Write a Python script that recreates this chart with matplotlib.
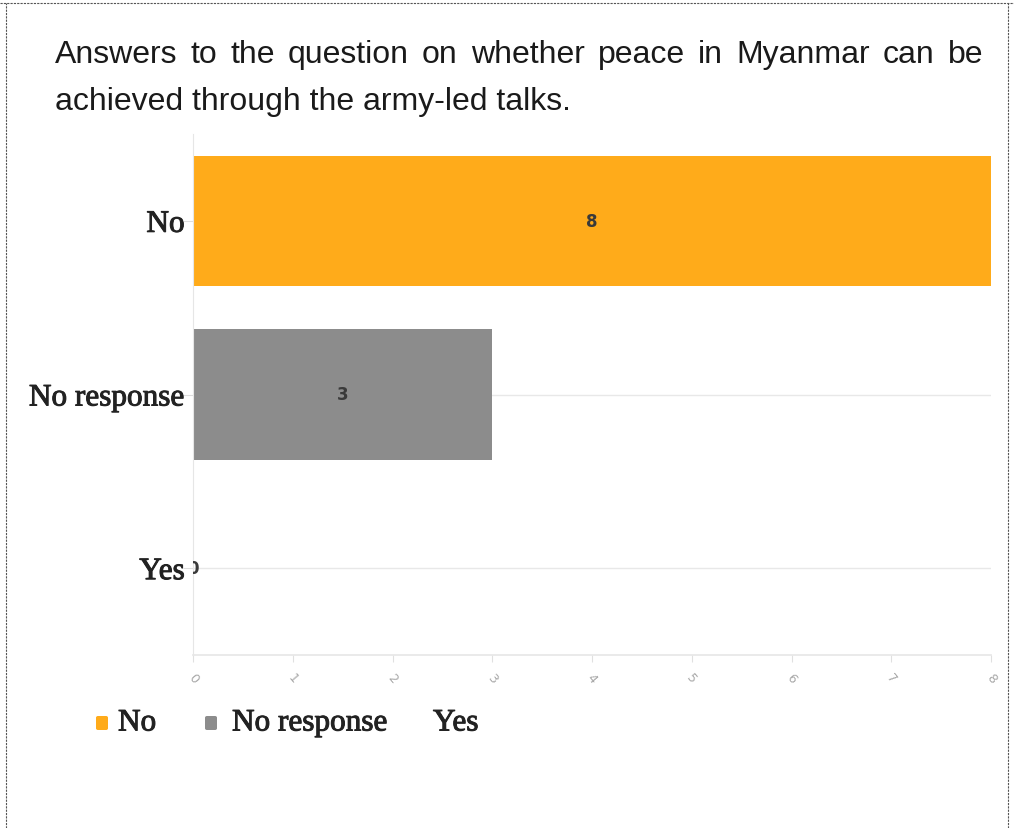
import matplotlib
matplotlib.use("Agg")
import matplotlib.pyplot as plt
from matplotlib.lines import Line2D
from matplotlib.patches import FancyBboxPatch
import matplotlib.patheffects as pe
from matplotlib.transforms import ScaledTranslation

categories = ["No", "No response", "Yes"]
counts = [8, 3, 0]
colors = ["#FFAB1A", "#8C8C8C", "#FFFFFF"]
x_ticks = [0, 1, 2, 3, 4, 5, 6, 7, 8]
title_lines = [
    "Answers to the question on whether peace in Myanmar can be",
    "achieved through the army-led talks.",
]

W, H = 1014, 829
fig = plt.figure(figsize=(W / 100, H / 100), dpi=100)
fig.patch.set_facecolor("white")

# dashed frame around the panel
frame = dict(color="#555555", lw=0.8, ls=(0, (2, 1)))
fig.add_artist(Line2D([0, 1], [1 - 4 / H, 1 - 4 / H], transform=fig.transFigure, **frame))
fig.add_artist(Line2D([6 / W, 6 / W], [0, 1 - 4 / H], transform=fig.transFigure, **frame))
fig.add_artist(Line2D([1008 / W, 1008 / W], [0, 1 - 4 / H], transform=fig.transFigure, **frame))

# title: first line justified across the panel width
title_font = dict(family="Liberation Sans", size=23, color="#1a1a1a")
fig.canvas.draw()
renderer = fig.canvas.get_renderer()
left_px, right_px = 55, 983
words = title_lines[0].split()
texts = [fig.text(0, 0, w, **title_font) for w in words]
widths = [t.get_window_extent(renderer).width for t in texts]
gap = (right_px - left_px - sum(widths)) / (len(words) - 1)
x = left_px
for t, w in zip(texts, widths):
    t.set_position((x / W, 1 - 63 / H))
    x += w + gap
fig.text(left_px / W, 1 - 110 / H, title_lines[1], **title_font)

serif = dict(family="Liberation Serif", size=22.5, color="#222222")
thick = [pe.withStroke(linewidth=0.7, foreground="#222222")]

# horizontal bar chart
ax = fig.add_axes([193 / W, 173 / H, 798 / W, (694 - 173) / H])
y = list(range(len(categories)))
ax.barh(y, counts, height=0.75, color=colors, zorder=2)
ax.set_ylim(len(categories) - 0.5, -0.5)
ax.set_xlim(0, 8)
ax.set_yticks(y)
ax.set_yticklabels(categories, **serif)
lift = ScaledTranslation(0, 0.04, fig.dpi_scale_trans)
for lab in ax.get_yticklabels():
    lab.set_path_effects(thick)
    lab.set_transform(lab.get_transform() + lift)
ax.set_xticks(x_ticks)
ax.set_xticklabels([str(v) for v in x_ticks], rotation=-50, size=9,
                   color="#a8a8a8", ha="center")
ax.tick_params(axis="y", length=7, width=0.8, color="#dddddd", pad=-1)
ax.tick_params(axis="x", length=5, width=0.8, color="#e0e0e0", pad=6)
ax.grid(axis="y", color="#e8e8e8", lw=1, zorder=1)
for s in ["top", "right"]:
    ax.spines[s].set_visible(False)
ax.spines["left"].set_color("#e6e6e6")
ax.spines["bottom"].set_color("#e6e6e6")
ax.spines["bottom"].set_linewidth(1.2)

for yi, v in zip(y, counts):
    ax.text(v / 2, yi, str(v), ha="center", va="center", size=12,
            fontweight="bold", color="#3a3a3a", clip_on=True, zorder=3)

# legend drawn as rounded swatches and serif labels
leg_y = 1 - 724 / H
swatch_x = [96, 205, None]
label_x = [118, 232, 433]
for c, cat, sx, lx in zip(colors, categories, swatch_x, label_x):
    if sx is not None:
        fig.add_artist(FancyBboxPatch((sx / W, leg_y - 7 / H), 12 / W, 14 / H,
                                      boxstyle="round,pad=0,rounding_size=0.002",
                                      transform=fig.transFigure,
                                      facecolor=c, edgecolor="none"))
    t = fig.text(lx / W, leg_y, cat, va="center", ha="left", **serif)
    t.set_path_effects(thick)

fig.savefig("out.png", dpi=100, facecolor="white")
